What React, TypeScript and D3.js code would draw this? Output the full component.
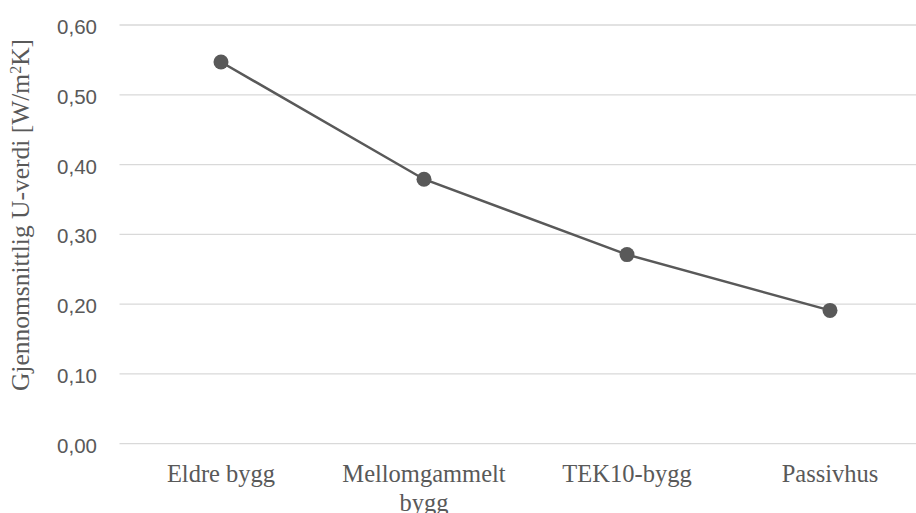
import React from "react";
import * as d3 from "d3";

// Building categories and their average U-values
const categories: string[][] = [
  ["Eldre bygg"],
  ["Mellomgammelt", "bygg"],
  ["TEK10-bygg"],
  ["Passivhus"],
];
const uValues: number[] = [0.547, 0.379, 0.271, 0.191];
const yTicks: number[] = [0, 0.1, 0.2, 0.3, 0.4, 0.5, 0.6];

const W = 916;
const H = 513;
const GRID = "#d9d9d9";
const INK = "#595959";
const SANS = "'Liberation Sans', Arial, sans-serif";
const SERIF = "'Liberation Serif', 'DejaVu Serif', serif";

export default function App() {
  const plotLeft = 119.5;
  const plotRight = 931.5;
  const x = d3
    .scalePoint<number>()
    .domain(categories.map((_, i) => i))
    .range([plotLeft, plotRight])
    .padding(0.5);
  const y = d3.scaleLinear().domain([0, 0.6]).range([443.7, 25]);

  const fmt = (v: number) => d3.format(".2f")(v).replace(".", ",");

  const line = d3
    .line<number>()
    .x((_, i) => x(i) as number)
    .y((d) => y(d));

  return (
    <svg
      width={W}
      height={H}
      style={{ position: "absolute", left: 0, top: 0, background: "#fff" }}
    >
      {/* horizontal gridlines and tick labels */}
      {yTicks.map((t) => (
        <g key={t}>
          <line
            x1={plotLeft}
            x2={W}
            y1={y(t)}
            y2={y(t)}
            stroke={GRID}
            strokeWidth={1.3}
          />
          <text
            x={97}
            y={y(t) + 9}
            textAnchor="end"
            fontFamily={SANS}
            fontSize={20.5}
            fill={INK}
          >
            {fmt(t)}
          </text>
        </g>
      ))}

      {/* y-axis title */}
      <text
        transform={`translate(29, 215) rotate(-90)`}
        textAnchor="middle"
        fontFamily={SERIF}
        fontSize={25.5}
        fill={INK}
      >
        Gjennomsnittlig U-verdi [W/m
        <tspan baselineShift="super" fontSize={16}>
          2
        </tspan>
        K]
      </text>

      {/* category labels */}
      {categories.map((lines, i) => (
        <text
          key={i}
          x={x(i)}
          y={482}
          textAnchor="middle"
          fontFamily={SERIF}
          fontSize={24.5}
          fill={INK}
        >
          {lines.map((l, j) => (
            <tspan key={j} x={x(i)} dy={j === 0 ? 0 : 29}>
              {l}
            </tspan>
          ))}
        </text>
      ))}

      {/* series line and markers */}
      <path
        d={line(uValues) ?? ""}
        fill="none"
        stroke={INK}
        strokeWidth={2.5}
      />
      {uValues.map((v, i) => (
        <circle key={i} cx={x(i)} cy={y(v)} r={7.5} fill={INK} />
      ))}
    </svg>
  );
}
